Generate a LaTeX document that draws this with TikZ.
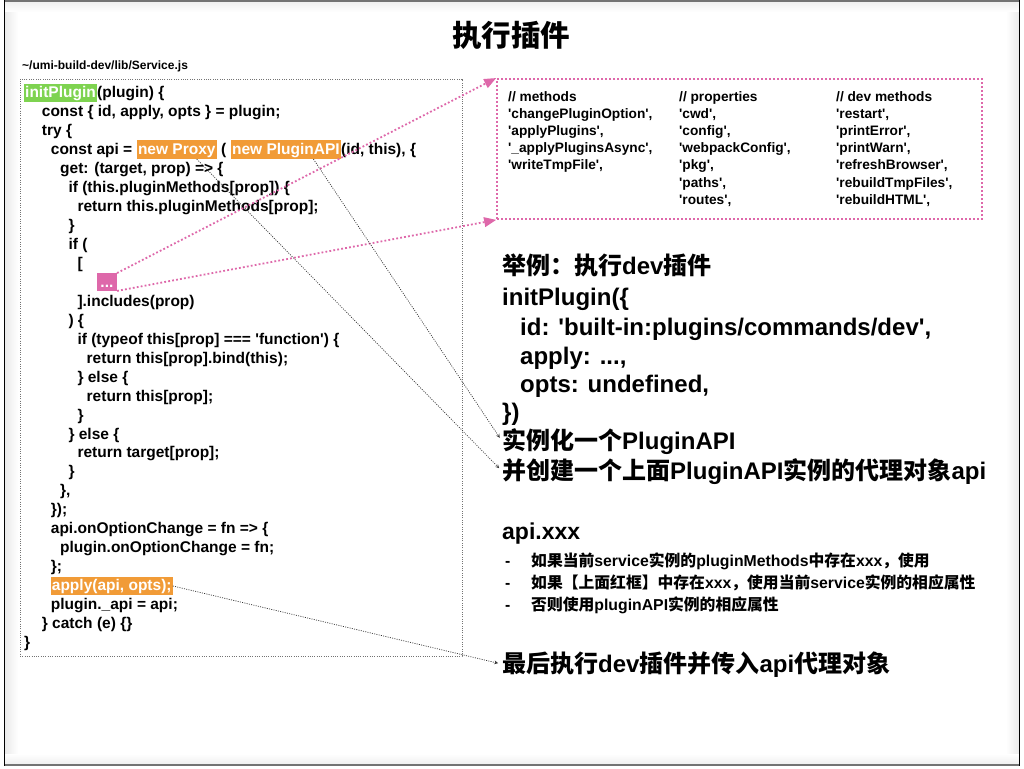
\documentclass[tikz,border=0pt]{standalone}
\usepackage{fontspec}
\usepackage{tikz}
\usetikzlibrary{arrows}
\usetikzlibrary{calc, positioning}
\usepackage{xcolor}

\newfontfamily\sansb{Liberation Sans}
\newfontfamily\zhfont{Noto Sans CJK SC}
\newcommand\zh[1]{{\zhfont #1}}

\definecolor{hlgreen}{RGB}{126,211,80}
\definecolor{hlorange}{RGB}{241,155,55}
\definecolor{hlpink}{RGB}{222,104,170}

\tikzset{
  code/.style={anchor=base west, inner sep=0pt, font=\sansb\bfseries\fontsize{15.5}{19}\selectfont},
  hl/.style={code, text=white, inner xsep=1pt, text height=14pt, text depth=4.5pt},
  pooltext/.style={anchor=north west, inner sep=0pt, align=left, font=\sansb\bfseries\fontsize{13.7}{17.2}\selectfont},
  big/.style={anchor=base west, inner sep=0pt, font=\sansb\bfseries\fontsize{24}{29}\selectfont},
  small/.style={anchor=base west, inner sep=0pt, font=\sansb\bfseries\fontsize{15.8}{22}\selectfont},
  pinkdots/.style={hlpink, line width=1.8pt, dash pattern=on 1.8pt off 2.2pt},
  ptr/.style={->, >=stealth, black!80, line width=0.7pt, dash pattern=on 1pt off 1.3pt, shorten >=4pt},
  pptr/.style={pinkdots, ->, >=triangle 45}
}

\begin{document}
\begin{tikzpicture}[x=1pt, y=-1pt]
  \useasboundingbox (0,0) rectangle (1024,768);
  \fill[white] (0,0) rectangle (1024,768);

  % slide frame
  \shade[left color=black!8, right color=white] (5,2) rectangle (18,764);
  \shade[left color=white, right color=black!8] (1006,2) rectangle (1019,764);
  \shade[top color=black!6, bottom color=white] (5,2) rectangle (1019,12);
  \shade[top color=white, bottom color=black!6] (5,754) rectangle (1019,764);
  \draw[black!55, line width=2pt] (4,1.5) -- (1020,1.5);
  \draw[black!55, line width=2pt] (4,764.5) -- (1020,764.5);
  \draw[black, line width=1.5pt] (4.5,0.5) -- (4.5,765.5);
  \draw[black, line width=1.5pt] (1019.3,0.5) -- (1019.3,765.5);

  \node[font=\zhfont\bfseries\fontsize{29.5}{32}\selectfont, inner sep=0pt] (title) at (511,35) {执行插件};
  \node[anchor=base west, inner sep=0pt, font=\sansb\bfseries\fontsize{12}{14}\selectfont] (file) at (22,70) {\textasciitilde/umi-build-dev/lib/Service.js};

  % boxes
  \node[draw=black!55, line width=0.7pt, dash pattern=on 1pt off 1.3pt, minimum width=442pt, minimum height=577pt] (codebox) at (241,367.5) {};
  \node[pinkdots, draw, minimum width=485pt, minimum height=140pt] (pool) at (739.5,149) {};

  % code lines
  \node[hl, fill=hlgreen] (initp) at (24,97.5) {initPlugin};
  \node[code] (l1) at (initp.base east) {(plugin) \{};
  \node[code] (l2) at (41.7,116.5) {const \{ id, apply, opts \} = plugin;};
  \node[code] (l3) at (41.7,135.4) {try \{};
  \node[code] (l4) at (50.7,154.4) {const api =};
  \node[hl, fill=hlorange] (proxy) at ([xshift=4.3pt]l4.base east) {new Proxy};
  \node[code] (l4b) at ([xshift=4.3pt]proxy.base east) {(};
  \node[hl, fill=hlorange] (pluginapi) at ([xshift=4.3pt]l4b.base east) {new PluginAPI};
  \node[code] (l4c) at (pluginapi.base east) {(id, this), \{};
  \node[code] (l5) at (60,173.4) {get: (target, prop) => \{};
  \node[code] (l6) at (68.3,192.4) {if (this.pluginMethods[prop]) \{};
  \node[code] (l7) at (77.3,211.3) {return this.pluginMethods[prop];};
  \node[code] (l8) at (68.3,230.3) {\}};
  \node[code] (l9) at (68.3,249.3) {if (};
  \node[code] (l10) at (77.3,268.2) {[};
  \node[hl, fill=hlpink, minimum width=20pt, text depth=3.5pt] (ell) at (96.7,287.2) {...};
  \node[code] (l12) at (77.3,306.2) {].includes(prop)};
  \node[code] (l13) at (68.3,325.1) {) \{};
  \node[code] (l14) at (77.3,344.1) {if (typeof this[prop] === 'function') \{};
  \node[code] (l15) at (86.5,363.1) {return this[prop].bind(this);};
  \node[code] (l16) at (77.3,382.0) {\} else \{};
  \node[code] (l17) at (86.5,401.0) {return this[prop];};
  \node[code] (l18) at (77.3,420.0) {\}};
  \node[code] (l19) at (68.3,439.0) {\} else \{};
  \node[code] (l20) at (77.3,457.9) {return target[prop];};
  \node[code] (l21) at (68.3,476.9) {\}};
  \node[code] (l22) at (60,495.9) {\},};
  \node[code] (l23) at (50.7,514.8) {\});};
  \node[code] (l24) at (50.7,533.8) {api.onOptionChange = fn => \{};
  \node[code] (l25) at (60,552.8) {plugin.onOptionChange = fn;};
  \node[code] (l26) at (50.7,571.7) {\};};
  \node[hl, fill=hlorange] (apply) at (50.7,590.7) {apply(api, opts);};
  \node[code] (l28) at (50.7,609.7) {plugin.\_api = api;};
  \node[code] (l29) at (41.7,628.7) {\} catch (e) \{\}};
  \node[code] (l30) at (24,647.6) {\}};

  % names in the red box
  \node[pooltext] (mcol) at (508,91) {// methods\\'changePluginOption',\\'applyPlugins',\\'\_applyPluginsAsync',\\'writeTmpFile',};
  \node[pooltext] (pcol) at (679,91) {// properties\\'cwd',\\'config',\\'webpackConfig',\\'pkg',\\'paths',\\'routes',};
  \node[pooltext] (dcol) at (836,91) {// dev methods\\'restart',\\'printError',\\'printWarn',\\'refreshBrowser',\\'rebuildTmpFiles',\\'rebuildHTML',};

  % example on the right
  \node[big] (eg) at (502,274) {\zh{举例：执行}dev\zh{插件}};
  \node[big] (egcall) at (502,305) {initPlugin(\{};
  \node[big] (egid) at (520,335) {id: 'built-in:plugins/commands/dev',};
  \node[big] (egapply) at (520,364) {apply: ...,};
  \node[big] (egopts) at (520,392) {opts: undefined,};
  \node[big] (egend) at (502,420) {\})};
  \node[big] (newapi) at (502,449) {\zh{实例化一个}PluginAPI};
  \node[big] (proxyapi) at (502,479) {\zh{并创建一个上面}PluginAPI\zh{实例的代理对象}api};

  \node[big, font=\sansb\bfseries\fontsize{23}{28}\selectfont] (apixxx) at (502,539) {api.xxx};
  \node[small] (d1) at (505,566) {-};
  \node[small] (b1) at (531,566) {\zh{如果当前}service\zh{实例的}pluginMethods\zh{中存在}xxx\zh{，使用}};
  \node[small] (d2) at (505,588) {-};
  \node[small] (b2) at (531,588) {\zh{如果【上面红框】中存在}xxx\zh{，使用当前}service\zh{实例的相应属性}};
  \node[small] (d3) at (505,610) {-};
  \node[small] (b3) at (531,610) {\zh{否则使用}pluginAPI\zh{实例的相应属性}};

  \node[big] (final) at (502,672) {\zh{最后执行}dev\zh{插件并传入}api\zh{代理对象}};

  % connectors
  \draw[pptr] (ell.north east) -- (pool.north west);
  \draw[pptr] (ell.south east) -- (pool.south west);
  \draw[ptr] ($(proxy.south)!.5!(proxy.south east)$) -- (proxyapi.west);
  \draw[ptr] ($(pluginapi.south)!.5!(pluginapi.south east)$) -- (newapi.west);
  \draw[ptr] (apply.east) -- (final.west);
\end{tikzpicture}
\end{document}
